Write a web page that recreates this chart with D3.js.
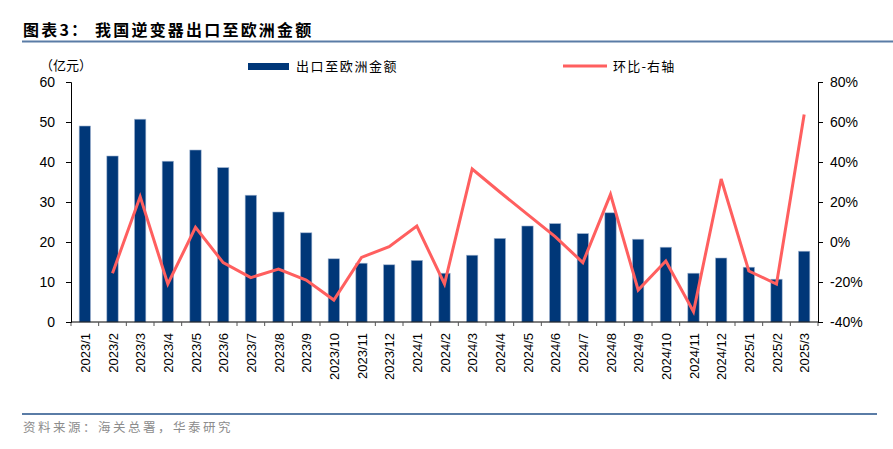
<!DOCTYPE html>
<html>
<head>
<meta charset="utf-8">
<script src="https://cdn.jsdelivr.net/npm/d3@7"></script>
<style>
  body { margin: 0; background: #fff; }
  svg text { font-family: "Liberation Sans", Arial, sans-serif; }
  .cjk { font-family: "Noto Sans CJK SC", sans-serif; }
</style>
</head>
<body>
<div id="chart"></div>
<script>
"use strict";

// months shown on the x axis
const months = [
  "2023/1", "2023/2", "2023/3", "2023/4", "2023/5", "2023/6", "2023/7", "2023/8", "2023/9",
  "2023/10", "2023/11", "2023/12", "2024/1", "2024/2", "2024/3", "2024/4", "2024/5", "2024/6",
  "2024/7", "2024/8", "2024/9", "2024/10", "2024/11", "2024/12", "2025/1", "2025/2", "2025/3"
];
// 出口至欧洲金额 (亿元)
const exportValues = [
  49.0, 41.5, 50.7, 40.2, 43.0, 38.6, 31.7, 27.5, 22.3,
  15.8, 14.7, 14.3, 15.4, 12.2, 16.7, 20.9, 24.0, 24.6,
  22.1, 27.3, 20.7, 18.7, 12.2, 16.0, 13.7, 10.7, 17.7
];
// 环比 (%) - first month has no value
const momValues = [
  null, -15.6, 22.7, -21.0, 7.3, -10.3, -17.8, -13.5, -19.0,
  -29.0, -7.7, -2.3, 8.0, -21.0, 36.5, 25.0, 13.8, 2.7,
  -10.3, 23.8, -24.0, -9.5, -34.8, 31.5, -14.5, -21.0, 63.8
];
const leftTicks = [0, 10, 20, 30, 40, 50, 60];
const rightTicks = [-40, -20, 0, 20, 40, 60, 80];

const W = 893, H = 449;
const margin = { top: 82, right: 75, bottom: 127, left: 71 };
const width = W - margin.left - margin.right,
  height = H - margin.top - margin.bottom;

const svg = d3.select("#chart").append("svg")
  .attr("width", W).attr("height", H);

// title and rule under it
svg.append("text").attr("class", "cjk")
  .attr("x", 23).attr("y", 36)
  .attr("font-size", 16).attr("font-weight", "bold").attr("fill", "#000")
  .attr("letter-spacing", 2.2)
  .text("图表3：  我国逆变器出口至欧洲金额");
svg.append("line").attr("x1", 22).attr("x2", 893).attr("y1", 41.5).attr("y2", 41.5)
  .attr("stroke", "#5a7ca6").attr("stroke-width", 2);

// footer
svg.append("line").attr("x1", 22).attr("x2", 877).attr("y1", 414).attr("y2", 414)
  .attr("stroke", "#5a7ca6").attr("stroke-width", 2);
svg.append("text").attr("class", "cjk")
  .attr("x", 23).attr("y", 432)
  .attr("font-size", 12.5).attr("fill", "#8c8c8c")
  .attr("letter-spacing", 2.5)
  .text("资料来源：海关总署，华泰研究");

const g = svg.append("g")
  .attr("transform", "translate(" + margin.left + "," + margin.top + ")");

// scales
const x = d3.scaleBand().domain(months).range([0, width]).paddingInner(0.59).paddingOuter(0.295);
const xb = d3.scaleBand().domain(months).range([0, width]);
const y = d3.scaleLinear().domain([0, 60]).range([height, 0]);
const y2 = d3.scaleLinear().domain([-40, 80]).range([height, 0]);

// bars
g.selectAll(".bar")
  .data(exportValues)
  .enter().append("rect")
  .attr("class", "bar")
  .attr("x", function (d, i) { return x(months[i]); })
  .attr("width", x.bandwidth())
  .attr("y", function (d) { return y(d); })
  .attr("height", function (d) { return height - y(d); })
  .attr("fill", "#003778")
  .attr("stroke", "#9fb4d0")
  .attr("stroke-width", 0.6);

// line on right axis
const line = d3.line()
  .defined(function (d) { return d != null; })
  .x(function (d, i) { return xb(months[i]) + xb.bandwidth() / 2; })
  .y(function (d) { return y2(d); });
g.append("path")
  .datum(momValues)
  .attr("fill", "none")
  .attr("stroke", "#ff5f5f")
  .attr("stroke-width", 3)
  .attr("stroke-linejoin", "miter")
  .attr("d", line);

// x axis: ticks on band boundaries
const xAxis = g.append("g").attr("transform", "translate(0," + height + ")");
xAxis.append("line").attr("x1", 0).attr("x2", width).attr("stroke", "#000");
xAxis.selectAll(".tk")
  .data(months.concat(["end"]))
  .enter().append("line")
  .attr("x1", function (d, i) { return i * xb.step(); })
  .attr("x2", function (d, i) { return i * xb.step(); })
  .attr("y1", 0).attr("y2", 4)
  .attr("stroke", "#555");
xAxis.selectAll(".lbl")
  .data(months)
  .enter().append("text")
  .attr("transform", function (d) {
    return "translate(" + (xb(d) + xb.bandwidth() / 2 + 5) + ",11) rotate(-90)";
  })
  .attr("text-anchor", "end")
  .attr("font-size", 13)
  .attr("fill", "#000")
  .text(function (d) { return d; });

// left axis
const yAxis = g.append("g")
  .call(d3.axisLeft(y).tickValues(leftTicks).tickSize(5).tickPadding(11));
yAxis.selectAll("text").attr("font-size", 14).attr("fill", "#000")
  .attr("font-family", "Liberation Sans, Arial, sans-serif");

// right axis
const yAxis2 = g.append("g").attr("transform", "translate(" + width + ",0)")
  .call(d3.axisRight(y2).tickValues(rightTicks).tickSize(5).tickPadding(7)
    .tickFormat(function (d) { return d + "%"; }));
yAxis2.selectAll("text").attr("font-size", 14).attr("fill", "#000")
  .attr("font-family", "Liberation Sans, Arial, sans-serif");
g.selectAll(".domain").attr("stroke", "#000");

// unit label
svg.append("text").attr("class", "cjk")
  .attr("x", 40).attr("y", 70)
  .attr("font-size", 13).attr("fill", "#000")
  .text("（亿元）");

// legend
svg.append("rect").attr("x", 248).attr("y", 63).attr("width", 41).attr("height", 7)
  .attr("fill", "#003778");
svg.append("text").attr("class", "cjk")
  .attr("x", 296).attr("y", 71)
  .attr("font-size", 13).attr("fill", "#000")
  .attr("letter-spacing", 1.6)
  .text("出口至欧洲金额");
svg.append("line").attr("x1", 563).attr("x2", 607).attr("y1", 66).attr("y2", 66)
  .attr("stroke", "#ff5f5f").attr("stroke-width", 3);
svg.append("text").attr("class", "cjk")
  .attr("x", 613).attr("y", 71)
  .attr("font-size", 13).attr("fill", "#000")
  .attr("letter-spacing", 1.2)
  .text("环比-右轴");
</script>
</body>
</html>
